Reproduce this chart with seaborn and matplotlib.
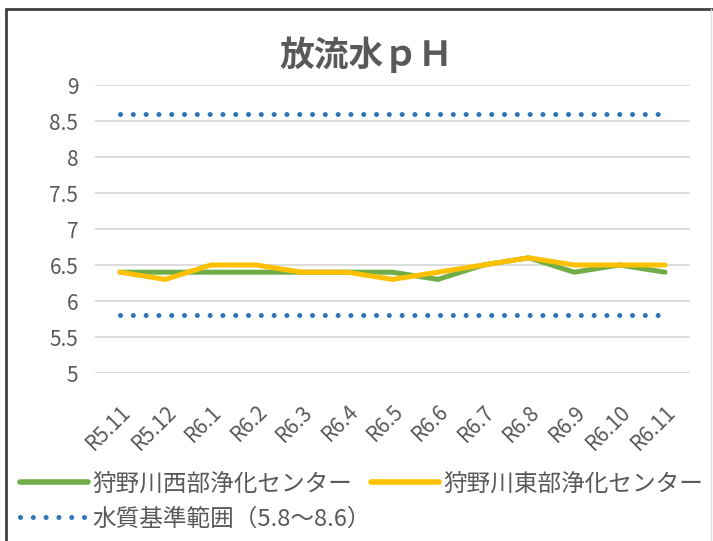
import matplotlib
matplotlib.use("Agg")
import matplotlib.pyplot as plt
import seaborn as sns
import pandas as pd
from matplotlib.lines import Line2D

months = ["R5.11", "R5.12", "R6.1", "R6.2", "R6.3", "R6.4", "R6.5",
          "R6.6", "R6.7", "R6.8", "R6.9", "R6.10", "R6.11"]
west = [6.4, 6.4, 6.4, 6.4, 6.4, 6.4, 6.4, 6.3, 6.5, 6.6, 6.4, 6.5, 6.4]
east = [6.4, 6.3, 6.5, 6.5, 6.4, 6.4, 6.3, 6.4, 6.5, 6.6, 6.5, 6.5, 6.5]
std_upper = 8.6
std_lower = 5.8
yticks = [5, 5.5, 6, 6.5, 7, 7.5, 8, 8.5, 9]
ytick_labels = ["5", "5.5", "6", "6.5", "7", "7.5", "8", "8.5", "9"]

west_name = "狩野川西部浄化センター"
east_name = "狩野川東部浄化センター"
std_name = "水質基準範囲（5.8～8.6）"
title = "放流水ｐＨ"

sns.set_theme(style="white")
plt.rcParams["font.family"] = ["Noto Sans CJK JP", "DejaVu Sans"]

GREEN = "#70AD47"
YELLOW = "#FFC000"
BLUE = "#2E75B6"
GRAY = "#595959"

W, H = 713, 541
fig = plt.figure(figsize=(W / 100, H / 100), dpi=100)
ax = fig.add_axes([95 / W, 1 - 373 / H, (690 - 95) / W, (373 - 85) / H])

x = list(range(len(months)))
df = pd.DataFrame({"x": x, "west": west, "east": east,
                   "up": [std_upper] * len(x), "lo": [std_lower] * len(x)})

dot_kw = dict(color=BLUE, lw=3.6, dashes=(0.01, 2.55), dash_capstyle="round")
sns.lineplot(data=df, x="x", y="up", ax=ax, **dot_kw)
sns.lineplot(data=df, x="x", y="lo", ax=ax, **dot_kw)
sns.lineplot(data=df, x="x", y="west", ax=ax, color=GREEN, lw=3.6)
sns.lineplot(data=df, x="x", y="east", ax=ax, color=YELLOW, lw=3.6)

ax.set_xlim(-0.55, len(months) - 0.45)
ax.set_ylim(5, 9)
ax.set_yticks(yticks)
ax.set_yticklabels(ytick_labels, color=GRAY, fontsize=15)
ax.set_xticks(x)
ax.set_xticklabels(months, rotation=45, ha="right", rotation_mode="anchor",
                   color=GRAY, fontsize=15)
ax.tick_params(axis="x", length=0, pad=20)
ax.tick_params(axis="y", length=0, pad=12)
ax.set_xlabel("")
ax.set_ylabel("")
ax.grid(axis="y", color="#D9D9D9", lw=1.3)
ax.set_axisbelow(True)
for s in ax.spines.values():
    s.set_visible(False)

fig.text(366 / W, 1 - 55 / H, title, ha="center", va="center",
         fontsize=25, color=GRAY, fontweight="bold")

handles = [Line2D([], [], color=GREEN, lw=4),
           Line2D([], [], color=YELLOW, lw=4),
           Line2D([], [], **dot_kw)]
fig.legend(handles[:2], [west_name, east_name], ncol=2,
           loc="center left", bbox_to_anchor=(20 / W, 1 - 484 / H),
           frameon=False, fontsize=17, handlelength=2.9,
           handletextpad=0.15, columnspacing=0.8, labelcolor=GRAY,
           borderaxespad=0, borderpad=0)
fig.legend(handles[2:], [std_name], loc="center left",
           bbox_to_anchor=(20 / W, 1 - 519 / H), frameon=False, fontsize=17,
           handlelength=2.9, handletextpad=0.15, labelcolor=GRAY,
           borderaxespad=0, borderpad=0)

# outer frame
fig.add_artist(Line2D([6 / W, 6 / W], [0, 1 - 9 / H], color="#404040", lw=2,
                      transform=fig.transFigure))
fig.add_artist(Line2D([6 / W, 1], [1 - 9 / H, 1 - 9 / H], color="#404040", lw=2,
                      transform=fig.transFigure))
fig.add_artist(Line2D([711 / W, 711 / W], [0, 1 - 9 / H], color="#E0E0E0", lw=1,
                      transform=fig.transFigure))

fig.savefig("out.png", dpi=100)
